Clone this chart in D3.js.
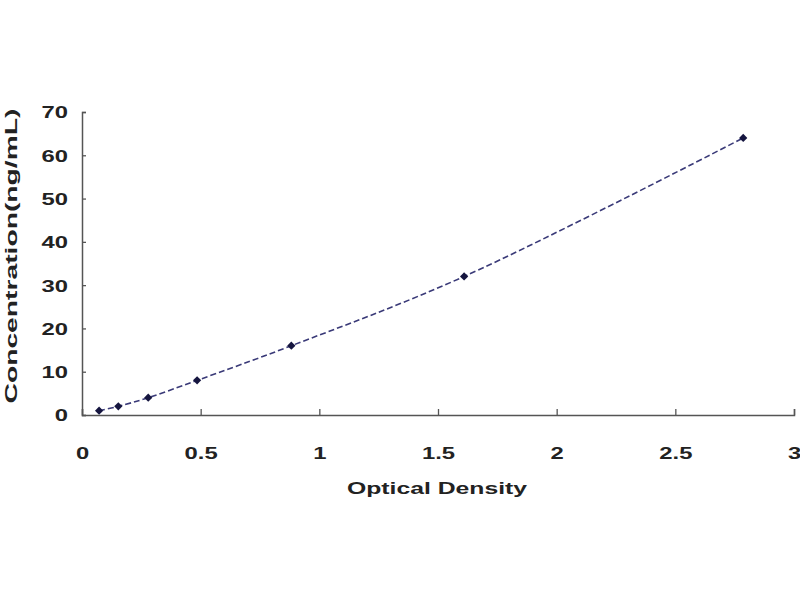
<!DOCTYPE html>
<html>
<head>
<meta charset="utf-8">
<script src="https://cdn.jsdelivr.net/npm/d3@7"></script>
<style>
  body { margin: 0; background: #fff; }
  text { font-family: "Liberation Sans", Arial, sans-serif; font-weight: bold; fill: #222; }
</style>
</head>
<body>
<svg id="chart" width="800" height="600"></svg>
<script>
// standard curve: optical density vs concentration
const od = [0.072, 0.153, 0.279, 0.485, 0.882, 1.61, 2.786]
const conc = [1, 2, 4, 8, 16, 32, 64]
const xTicks = [0, 0.5, 1, 1.5, 2, 2.5, 3]
const xTickLabels = ["0", "0.5", "1", "1.5", "2", "2.5", "3"]
const yTicks = [0, 10, 20, 30, 40, 50, 60, 70]

const pts = od.map((d, i) => ({x: d, y: conc[i]}))

const svg = d3.select("#chart")
const x = d3.scaleLinear().domain([0, 3]).range([82, 794])
const y = d3.scaleLinear().domain([0, 70]).range([415, 112])

// the original's labels are wide, stretch them horizontally
const sx = 1.4

// axes - ticks point inward like the original
const xAxis = svg.append("g")
  .attr("transform", `translate(0,${y(0)})`)
  .call(d3.axisBottom(x).tickValues(xTicks).tickSize(-6).tickFormat((d, i) => xTickLabels[i]))
const yAxis = svg.append("g")
  .attr("transform", `translate(${x(0)},0)`)
  .call(d3.axisLeft(y).tickValues(yTicks).tickSize(-4))

for (const g of [xAxis, yAxis]) {
  g.select(".domain").attr("stroke", "#555").attr("stroke-width", 1.5)
  g.selectAll(".tick line").attr("stroke", "#555").attr("stroke-width", 1.3)
  g.selectAll(".tick text")
    .attr("font-size", 17)
    .attr("font-family", "Liberation Sans, Arial, sans-serif")
    .attr("font-weight", "bold")
    .attr("fill", "#222")
}
xAxis.selectAll(".tick text").attr("dy", 0).attr("y", 44).attr("x", 0)
  .attr("transform", `scale(${sx},1)`)
xAxis.selectAll(".tick").filter(d => d === 3).select("text").attr("fill", "#3a4a7a")
yAxis.selectAll(".tick text").attr("x", -14 / sx).attr("dy", "0.35em")
  .attr("transform", `scale(${sx},1)`)

// fitted curve
const line = d3.line()
  .x(d => x(d.x))
  .y(d => y(d.y))
  .curve(d3.curveCatmullRom.alpha(0.5))

svg.append("path")
  .datum(pts)
  .attr("d", line)
  .attr("fill", "none")
  .attr("stroke", "#3a3a78")
  .attr("stroke-width", 1.6)
  .attr("stroke-dasharray", "6,3")

// markers (rotated squares, they look round-ish in the original)
svg.selectAll(".pt")
  .data(pts).enter()
  .append("path")
  .attr("class", "pt")
  .attr("d", d3.symbol().type(d3.symbolSquare).size(34))
  .attr("transform", d => `translate(${x(d.x)},${y(d.y)}) rotate(45)`)
  .attr("fill", "#15153f")

// titles
svg.append("text")
  .attr("x", 437).attr("y", 494)
  .attr("text-anchor", "middle")
  .attr("font-size", 17)
  .attr("textLength", 180)
  .attr("lengthAdjust", "spacingAndGlyphs")
  .text("Optical Density")

svg.append("text")
  .attr("transform", "translate(17,256) rotate(-90)")
  .attr("text-anchor", "middle")
  .attr("font-size", 16)
  .attr("textLength", 295)
  .attr("lengthAdjust", "spacingAndGlyphs")
  .text("Concentration(ng/mL)")
</script>
</body>
</html>
